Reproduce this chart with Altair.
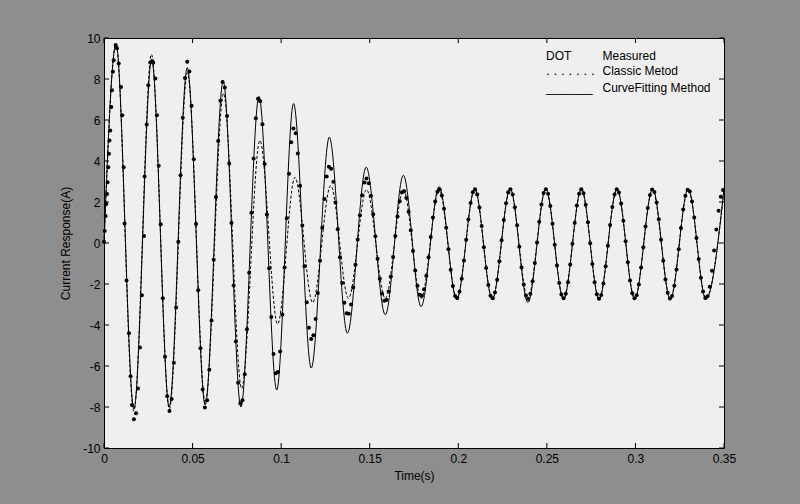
import altair as alt
import pandas as pd

# ---------------- data ----------------
# CurveFitting Method (solid line): start point and turning points (s, A)
fit_t = [0.0, 0.0068, 0.0169, 0.0269, 0.0368, 0.0470, 0.0571, 0.0673, 0.0773, 0.0875,
         0.0975, 0.1070, 0.1170, 0.1272, 0.1374, 0.1480, 0.1588, 0.1690, 0.1790, 0.1892,
         0.1991, 0.2093, 0.2192, 0.2293, 0.2393, 0.2494, 0.2594, 0.2695, 0.2795, 0.2896,
         0.2996, 0.3097, 0.3197, 0.3298, 0.3398, 0.3500]
fit_i = [0.0, 9.7, -8.1, 8.95, -8.0, 8.55, -7.9, 7.9, -8.0, 7.15,
         -7.17, 6.8, -6.1, 5.16, -4.4, 3.7, -3.5, 3.3, -3.1, 2.75,
         -2.75, 2.65, -2.75, 2.65, -2.9, 2.65, -2.75, 2.65, -2.75, 2.65,
         -2.75, 2.65, -2.75, 2.65, -2.75, 2.65]

# Classic Metod (dotted line): start point and turning points
cls_t = [0.0, 0.0068, 0.0168, 0.0268, 0.0369, 0.0471, 0.0572, 0.0675, 0.0777, 0.0880,
         0.0980, 0.1078, 0.1178, 0.1280, 0.1380, 0.1482, 0.1588, 0.1690, 0.1790, 0.1892,
         0.1991, 0.2093, 0.2192, 0.2293, 0.2393, 0.2494, 0.2594, 0.2695, 0.2795, 0.2896,
         0.2996, 0.3097, 0.3197, 0.3298, 0.3398, 0.3500]
cls_i = [0.0, 9.7, -8.2, 9.2, -8.1, 8.3, -7.8, 7.3, -7.1, 5.0,
         -3.95, 3.2, -2.9, 2.8, -2.7, 2.6, -2.7, 2.6, -2.7, 2.6,
         -2.7, 2.6, -2.7, 2.6, -2.7, 2.6, -2.7, 2.6, -2.7, 2.6,
         -2.7, 2.6, -2.7, 2.6, -2.7, 2.6]

# Measured samples (DOT)
meas_t = [
    0.0000, 0.0004, 0.0009, 0.0013, 0.0017, 0.0020, 0.0024, 0.0028, 0.0031, 0.0035,
    0.0041, 0.0045, 0.0050, 0.0055, 0.0066, 0.0073, 0.0083, 0.0096, 0.0103, 0.0111,
    0.0116, 0.0127, 0.0141, 0.0150, 0.0158, 0.0169, 0.0181, 0.0192, 0.0203, 0.0214,
    0.0226, 0.0229, 0.0241, 0.0250, 0.0261, 0.0273, 0.0278, 0.0290, 0.0299, 0.0309,
    0.0320,
    0.0332, 0.03445, 0.0357, 0.03695,
    0.0382, 0.03945, 0.0407, 0.04195, 0.0432, 0.04445, 0.0457, 0.04695,
    0.0482, 0.04945, 0.0507, 0.05195, 0.0532, 0.05445, 0.0557, 0.05695,
    0.0582, 0.05945, 0.0607, 0.06195, 0.0632, 0.06445, 0.0657, 0.06695,
    0.0682, 0.06945, 0.0707, 0.07195, 0.0732, 0.07445, 0.0757, 0.07695,
    0.0782, 0.07945, 0.0807, 0.08195, 0.0832, 0.08445, 0.0857, 0.08695,
    0.0882, 0.08945, 0.0907, 0.09195, 0.0932, 0.09445, 0.0957, 0.09695,
    0.0982, 0.09945, 0.1007, 0.10195, 0.1032, 0.10445, 0.1057, 0.10695,
    0.1082, 0.10945, 0.1107, 0.11195, 0.1132, 0.11445, 0.1157, 0.11695,
    0.1182, 0.11945, 0.1207, 0.12195, 0.1232, 0.12445, 0.1257, 0.12695,
    0.1282, 0.12945, 0.1307, 0.13195, 0.1332, 0.13445, 0.1357, 0.13695,
    0.1382, 0.13945, 0.1407, 0.14195, 0.1432, 0.14445, 0.1457, 0.14695,
    0.1482, 0.14945, 0.1507, 0.15195, 0.1532, 0.15445, 0.1557, 0.15695, 0.1582,
    0.15945, 0.1607, 0.16195, 0.1632, 0.16445, 0.1657, 0.16695, 0.1682,
    0.16945, 0.1707, 0.17195, 0.1732, 0.17445, 0.1757, 0.17695, 0.1782,
    0.17945, 0.1807, 0.18195, 0.1832, 0.18445, 0.1857, 0.18695, 0.1882,
    0.18945, 0.1907, 0.19195, 0.1932, 0.19445, 0.1957, 0.19695, 0.1982,
    0.19945, 0.2007, 0.20195, 0.2032, 0.20445, 0.2057, 0.20695, 0.2082,
    0.20945, 0.2107, 0.21195, 0.2132, 0.21445, 0.2157, 0.21695, 0.2182,
    0.21945, 0.2207, 0.22195, 0.2232, 0.22445, 0.2257, 0.22695, 0.2282,
    0.22945, 0.2307, 0.23195, 0.2332, 0.23445, 0.2357, 0.23695, 0.2382,
    0.23945, 0.2407, 0.24195, 0.2432, 0.24445, 0.2457, 0.24695, 0.2482,
    0.24945, 0.2507, 0.25195, 0.2532, 0.25445, 0.2557, 0.25695, 0.2582,
    0.25945, 0.2607, 0.26195, 0.2632, 0.26445, 0.2657, 0.26695, 0.2682,
    0.26945, 0.2707, 0.27195, 0.2732, 0.27445, 0.2757, 0.27695, 0.2782,
    0.27945, 0.2807, 0.28195, 0.2832, 0.28445, 0.2857, 0.28695, 0.2882,
    0.28945, 0.2907, 0.29195, 0.2932, 0.29445, 0.2957, 0.29695, 0.2982,
    0.29945, 0.3007, 0.30195, 0.3032, 0.30445, 0.3057, 0.30695, 0.3082,
    0.30945, 0.3107, 0.31195, 0.3132, 0.31445, 0.3157, 0.31695, 0.3182, 0.31945,
    0.3207, 0.32195, 0.3232, 0.32445, 0.3257, 0.32695, 0.3282, 0.32945,
    0.3307, 0.33195, 0.3332, 0.33445, 0.3357, 0.33695, 0.3382, 0.33945,
    0.3407, 0.34195, 0.3432, 0.34445, 0.3457, 0.34695, 0.3482, 0.34945,
]
meas_i = [
    0.06, 0.59, 1.32, 1.90, 2.39, 2.96, 3.69, 4.35, 5.00, 5.49,
    6.63, 7.45, 8.35, 8.92, 9.66, 9.50, 8.76, 7.61, 6.23, 3.69,
    0.95, -1.83, -4.40, -6.50, -7.90, -8.60, -8.30, -7.10, -5.10, -2.55,
    0.34, 3.25, 5.78, 7.70, 8.81, 8.87, 8.79, 8.02, 6.23, 3.77,
    0.92,
    -2.70, -5.55, -7.48, -8.20,
    -7.61, -5.84, -3.15, 0.06, 3.31, 6.11, 8.05, 8.84,
    8.36, 6.69, 4.08, 0.93, -2.31, -5.14, -7.15, -8.02,
    -7.67, -6.18, -3.78, -0.82, 2.25, 4.97, 6.94, 7.85,
    7.59, 6.20, 3.88, 0.98, -2.07, -4.80, -6.82, -7.82,
    -7.67, -6.40, -4.21, -1.45, 1.48, 4.12, 6.08, 7.04,
    6.91, 5.79, 3.85, 1.39, -1.23, -3.61, -5.41, -6.35,
    -6.29, -5.29, -3.49, -1.20, 1.21, 3.38, 4.91, 5.58,
    5.35, 4.36, 2.79, 0.85, -1.14, -2.89, -4.14, -4.68,
    -4.50, -3.71, -2.44, -0.87, 0.75, 2.15, 3.24, 3.72,
    3.62, 2.99, 1.97, 0.67, -0.70, -1.95, -2.91, -3.43,
    -3.45, -3.00, -2.17, -1.06, 0.17, 1.35, 2.33, 2.95,
    3.15, 2.91, 2.30, 1.40, 0.33, -0.77, -1.74, -2.46, -2.82,
    -2.78, -2.36, -1.63, -0.68, 0.34, 1.29, 2.04, 2.47,
    2.52, 2.19, 1.52, 0.62, -0.39, -1.34, -2.09, -2.52,
    -2.57, -2.25, -1.60, -0.70, 0.29, 1.24, 2.02, 2.50,
    2.61, 2.32, 1.67, 0.75, -0.30, -1.30, -2.10, -2.59,
    -2.68, -2.38, -1.74, -0.85, 0.16, 1.15, 1.95, 2.47,
    2.62, 2.36, 1.73, 0.83, -0.21, -1.22, -2.05, -2.57,
    -2.69, -2.42, -1.79, -0.89, 0.13, 1.12, 1.94, 2.47,
    2.62, 2.37, 1.75, 0.86, -0.18, -1.19, -2.03, -2.56,
    -2.72, -2.47, -1.86, -0.98, 0.03, 1.04, 1.88, 2.44,
    2.62, 2.40, 1.81, 0.94, -0.08, -1.10, -1.95, -2.51,
    -2.70, -2.48, -1.91, -1.05, -0.04, 0.97, 1.83, 2.40,
    2.62, 2.43, 1.87, 1.01, -0.01, -1.03, -1.91, -2.50,
    -2.72, -2.54, -1.98, -1.14, -0.13, 0.88, 1.76, 2.37,
    2.62, 2.46, 1.93, 1.09, 0.09, -0.94, -1.83, -2.45,
    -2.70, -2.55, -2.02, -1.20, -0.21, 0.81, 1.71, 2.34,
    2.61, 2.49, 1.98, 1.16, 0.16, -0.87, -1.78, -2.43, -2.71,
    -2.59, -2.09, -1.29, -0.30, 0.73, 1.64, 2.30, 2.60,
    2.51, 2.03, 1.24, 0.25, -0.78, -1.70, -2.37, -2.68,
    -2.60, -2.13, -1.35, -0.37, 0.66, 1.57, 2.26, 2.59,
]

x_ticks = [0, 0.05, 0.1, 0.15, 0.2, 0.25, 0.3, 0.35]
y_ticks = [-10, -8, -6, -4, -2, 0, 2, 4, 6, 8, 10]

legend_keys = ["DOT", ". . . . . . .", "_______"]
legend_names = ["Measured", "Classic Metod", "CurveFitting Method"]

# ---------------- chart ----------------
FONT = "Liberation Sans"
W, H = 620, 410

fit_df = pd.DataFrame({"t": fit_t, "i": fit_i})
cls_df = pd.DataFrame({"t": cls_t, "i": cls_i})
meas_df = pd.DataFrame({"t": meas_t, "i": meas_i})
xt_df = pd.DataFrame({"t": x_ticks})
yt_df = pd.DataFrame({"i": y_ticks})

x_enc = alt.X(
    "t:Q",
    scale=alt.Scale(domain=[0, 0.35], nice=False),
    axis=alt.Axis(values=x_ticks, title="Time(s)", labelExpr="'' + datum.value",
                  ticks=False, domain=False, grid=False, labelPadding=5,
                  titlePadding=6, labelFlush=False),
)
y_enc = alt.Y(
    "i:Q",
    scale=alt.Scale(domain=[-10, 10], nice=False),
    axis=alt.Axis(values=y_ticks, title="Current Response(A)", labelExpr="'' + datum.value",
                  ticks=False, domain=False, grid=False, labelPadding=4,
                  titlePadding=10, labelFlush=False),
)

fit_line = alt.Chart(fit_df).mark_line(
    color="black", strokeWidth=1, interpolate="monotone"
).encode(x=x_enc, y=y_enc)

cls_line = alt.Chart(cls_df).mark_line(
    color="black", strokeWidth=1, interpolate="monotone", strokeDash=[3, 2]
).encode(x="t:Q", y="i:Q")

dots = alt.Chart(meas_df).mark_circle(
    color="black", size=16, opacity=1
).encode(x="t:Q", y="i:Q")

tick_len = 5
x_top = alt.Chart(xt_df).mark_rule(color="black", strokeWidth=1).encode(
    x="t:Q", y=alt.value(0), y2=alt.value(tick_len))
x_bot = alt.Chart(xt_df).mark_rule(color="black", strokeWidth=1).encode(
    x="t:Q", y=alt.value(H), y2=alt.value(H - tick_len))
y_left = alt.Chart(yt_df).mark_rule(color="black", strokeWidth=1).encode(
    y="i:Q", x=alt.value(0), x2=alt.value(tick_len))
y_right = alt.Chart(yt_df).mark_rule(color="black", strokeWidth=1).encode(
    y="i:Q", x=alt.value(W), x2=alt.value(W - tick_len))

legend_layers = []
rows_y = [22, 36.5, 53.5]
key_sizes = [12, 13.5, 12]
for key, name, ry, ks in zip(legend_keys, legend_names, rows_y, key_sizes):
    legend_layers.append(
        alt.Chart(pd.DataFrame({"label": [key]})).mark_text(
            align="left", baseline="alphabetic", fontSize=ks, font=FONT, color="black"
        ).encode(text="label:N", x=alt.value(442), y=alt.value(ry))
    )
    legend_layers.append(
        alt.Chart(pd.DataFrame({"label": [name]})).mark_text(
            align="left", baseline="alphabetic", fontSize=12, font=FONT, color="black"
        ).encode(text="label:N", x=alt.value(498.5), y=alt.value(ry))
    )

chart = alt.layer(
    fit_line, cls_line, dots, x_top, x_bot, y_left, y_right, *legend_layers
).properties(
    width=W, height=H,
    background="#8e8e8e",
    padding={"left": 104, "top": 38, "right": 76, "bottom": 56},
    autosize=alt.AutoSizeParams(type="none"),
).configure_view(
    fill="#efefef", stroke="black", strokeWidth=1
).configure_axis(
    labelFont=FONT, titleFont=FONT, labelFontSize=12, titleFontSize=12,
    titleFontWeight="normal", labelColor="black", titleColor="black",
)

chart.save("out.html", embed_options={"renderer": "svg", "actions": False})
